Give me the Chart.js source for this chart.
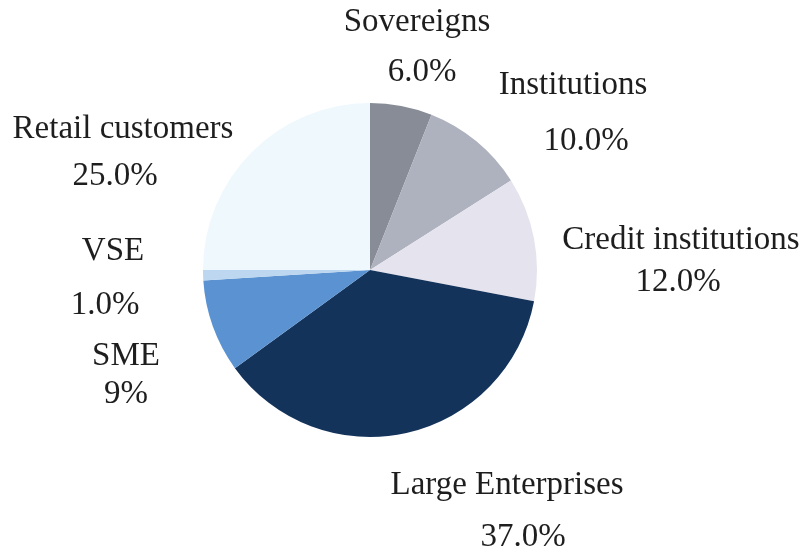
<!DOCTYPE html>
<html>
<head>
<meta charset="utf-8">
<script src="https://cdn.jsdelivr.net/npm/chart.js@4"></script>
<style>
    html, body { margin: 0; padding: 0; background: #ffffff; }
    #pieChart { display: block; }
</style>
</head>
<body>
<canvas id="pieChart" width="803" height="548"></canvas>
<script>
const categories = ["Sovereigns", "Institutions", "Credit institutions", "Large Enterprises", "SME", "VSE", "Retail customers"];
const shares = [6, 10, 12, 37, 9, 1, 25];
const shareLabels = ["6.0%", "10.0%", "12.0%", "37.0%", "9%", "1.0%", "25.0%"];
const sliceColors = ["#878c96", "#aeb1be", "#e5e4ee", "#14335b", "#5b93d2", "#bcd7ef", "#eef8fd"];

// where each name / value line sits (text centres, in canvas px)
const labelSpots = [
    { x: 417, y: 22, vx: 422, vy: 72 },
    { x: 573, y: 85, vx: 586, vy: 141 },
    { x: 681, y: 240, vx: 678, vy: 282 },
    { x: 507, y: 485, vx: 523, vy: 537 },
    { x: 126, y: 356, vx: 126, vy: 394 },
    { x: 113, y: 251, vx: 105, vy: 305 },
    { x: 123, y: 129, vx: 115, vy: 176 },
];

const outsideLabels = {
    id: "outsideLabels",
    afterDraw(chart) {
        const ctx = chart.ctx;
        ctx.save();
        ctx.font = "33px 'Liberation Serif', 'Times New Roman', serif";
        ctx.fillStyle = "#1e1e1e";
        ctx.textAlign = "center";
        ctx.textBaseline = "middle";
        chart.data.labels.forEach((name, i) => {
            const spot = labelSpots[i];
            ctx.fillText(name, spot.x, spot.y);
            ctx.fillText(shareLabels[i], spot.vx, spot.vy);
        });
        ctx.restore();
    },
};

function drawPie() {
    const canvas = document.getElementById("pieChart");
    new Chart(canvas, {
        type: "pie",
        data: {
            labels: categories,
            datasets: [
                {
                    data: shares,
                    backgroundColor: sliceColors,
                    borderWidth: 0,
                },
            ],
        },
        options: {
            responsive: false,
            animation: false,
            layout: {
                padding: { top: 103, bottom: 111, left: 203, right: 266 },
            },
            plugins: {
                legend: { display: false },
                tooltip: { enabled: false },
            },
        },
        plugins: [outsideLabels],
    });
}

drawPie();
</script>
</body>
</html>
